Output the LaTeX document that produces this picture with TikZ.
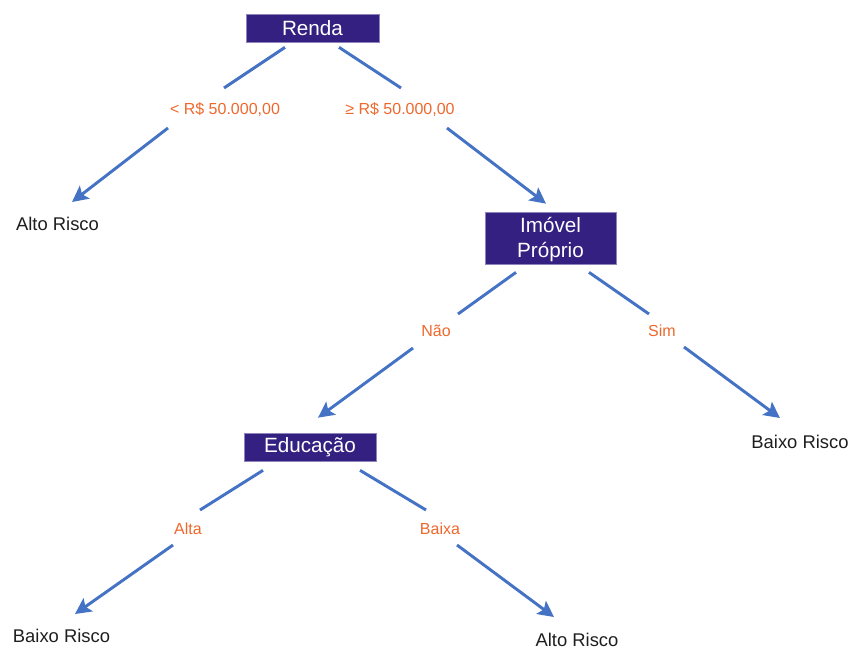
\documentclass[tikz,border=0pt]{standalone}
\usepackage{fontspec}
\setmainfont{Liberation Sans}
\usetikzlibrary{arrows.meta,calc}
\definecolor{boxfill}{RGB}{52,32,128}
\definecolor{edgeblue}{RGB}{68,114,196}
\definecolor{lblorange}{RGB}{237,104,44}
\definecolor{leaftext}{RGB}{30,30,30}
\begin{document}
\begin{tikzpicture}[x=0.75pt,y=-0.75pt,
  decision/.style={fill=boxfill,draw=boxfill!55!white,line width=0.5pt,text=white,
    font=\fontsize{15.5}{18.75}\selectfont,inner sep=0pt},
  branch/.style={text=lblorange,font=\fontsize{12}{14}\selectfont,inner sep=1pt},
  leaf/.style={text=leaftext,font=\fontsize{13.8}{16}\selectfont,inner sep=1pt},
  link/.style={draw=edgeblue,line width=2.2pt},
  arrowlink/.style={link,-{Stealth[length=12pt,width=12pt,inset=2.5pt]}}]
\useasboundingbox (0,0) rectangle (852,649);

% decision nodes
\node[decision,minimum width=99.75pt,minimum height=21pt] (renda) at (312.5,28) {Renda};
\node[decision,minimum width=98.25pt,minimum height=39pt] (imovel) at (550.5,238)
  {\raisebox{-5pt}[0pt][0pt]{\begin{tabular}{@{}c@{}}Imóvel\\Próprio\end{tabular}}};
\node[decision,minimum width=99pt,minimum height=21pt] (educ) at (310,447) {Educação};

% branch labels
\node[branch] (lowinc) at (225,110) {< R\$ 50.000,00};
\node[branch] (highinc) at (400,110) {≥ R\$ 50.000,00};
\node[branch] (nao) at (436,331) {Não};
\node[branch] (sim) at (662,331) {Sim};
\node[branch] (alta) at (188,529) {Alta};
\node[branch] (baixa) at (440,529) {Baixa};

% leaves
\node[leaf] (leafA) at (57.5,224) {Alto Risco};
\node[leaf] (leafB) at (800,442) {Baixo Risco};
\node[leaf] (leafC) at (61.5,636) {Baixo Risco};
\node[leaf] (leafD) at (577,640) {Alto Risco};

% Renda
\draw[link] ($(renda.south)+(-27.5,5)$) -- ($(lowinc)+(-1,-22)$);
\draw[arrowlink] ($(lowinc)+(-57,18)$) -- ($(leafA)+(14.5,-22)$);
\draw[link] ($(renda.south)+(26.5,5)$) -- ($(highinc)+(1,-22)$);
\draw[arrowlink] ($(highinc)+(47,18)$) -- ($(imovel.north)+(-4.5,-8)$);

% Imovel Proprio
\draw[link] ($(imovel.south)+(-34.5,8)$) -- ($(nao)+(22,-17)$);
\draw[arrowlink] ($(nao)+(-23,17)$) -- ($(educ.north)+(8,-15)$);
\draw[link] ($(imovel.south)+(38.5,8)$) -- ($(sim)+(-13,-17)$);
\draw[arrowlink] ($(sim)+(22,16)$) -- ($(leafB)+(-20,-24)$);

% Educacao
\draw[link] ($(educ.south)+(-47,9)$) -- ($(alta)+(12,-19)$);
\draw[arrowlink] ($(alta)+(-15,16)$) -- ($(leafC)+(13.5,-22)$);
\draw[link] ($(educ.south)+(50,9)$) -- ($(baixa)+(-14,-19)$);
\draw[arrowlink] ($(baixa)+(17,16)$) -- ($(leafD)+(-23,-23)$);
\end{tikzpicture}
\end{document}
